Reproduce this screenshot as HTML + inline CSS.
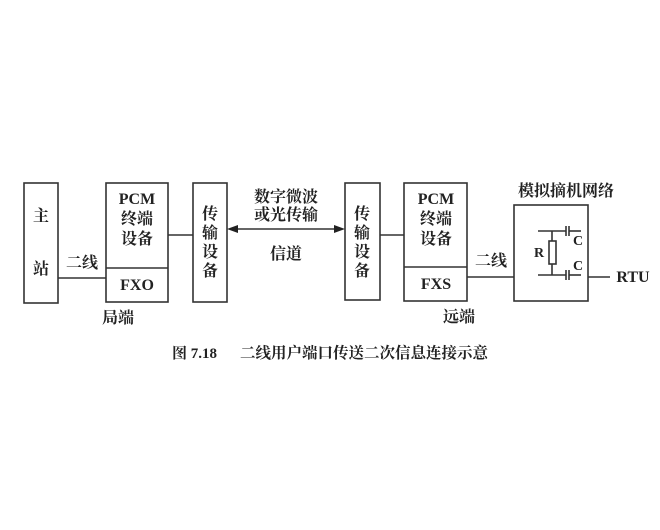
<!DOCTYPE html>
<html><head><meta charset="utf-8"><style>
html,body{margin:0;padding:0;background:#fff;}
</style></head><body>
<svg width="660" height="525" xmlns="http://www.w3.org/2000/svg" font-family="Liberation Serif, Noto Serif CJK SC, serif" fill="#222">
<rect width="660" height="525" fill="#fff"/>
<g fill="none" stroke="#333" stroke-width="1.6">
<rect x="24" y="183" width="34" height="120"/>
<rect x="106" y="183" width="62" height="119"/>
<line x1="106" y1="268" x2="168" y2="268"/>
<rect x="193" y="183" width="34" height="119"/>
<rect x="345" y="183" width="35" height="117"/>
<rect x="404" y="183" width="63" height="118"/>
<line x1="404" y1="267" x2="467" y2="267"/>
<rect x="514" y="205" width="74" height="96"/>
<line x1="58" y1="278" x2="106" y2="278"/>
<line x1="168" y1="235" x2="193" y2="235"/>
<line x1="380" y1="235" x2="404" y2="235"/>
<line x1="467" y1="277" x2="514" y2="277"/>
<line x1="588" y1="277" x2="610" y2="277"/>
<line x1="236" y1="229" x2="336" y2="229"/>
<line x1="538" y1="231" x2="566" y2="231"/><line x1="569" y1="231" x2="581" y2="231"/>
<line x1="566" y1="226" x2="566" y2="236"/><line x1="569" y1="226" x2="569" y2="236"/>
<line x1="538" y1="275" x2="566" y2="275"/><line x1="569" y1="275" x2="581" y2="275"/>
<line x1="566" y1="270" x2="566" y2="280"/><line x1="569" y1="270" x2="569" y2="280"/>
<line x1="552" y1="231" x2="552" y2="241"/><line x1="552" y1="264" x2="552" y2="275"/>
<rect x="549" y="241" width="7" height="23"/>
</g>
<polygon points="227,229 238,225 238,233" fill="#222"/>
<polygon points="345,229 334,225 334,233" fill="#222"/>
<g font-size="16" font-weight="bold" text-anchor="middle">
<text x="41" y="221">主</text><text x="41" y="274">站</text>
<text x="137" y="204">PCM</text><text x="137" y="224">终端</text><text x="137" y="244">设备</text>
<text x="137" y="290">FXO</text>
<text x="210" y="219">传</text><text x="210" y="238">输</text><text x="210" y="257">设</text><text x="210" y="276">备</text>
<text x="362" y="219">传</text><text x="362" y="238">输</text><text x="362" y="257">设</text><text x="362" y="276">备</text>
<text x="436" y="204">PCM</text><text x="436" y="224">终端</text><text x="436" y="244">设备</text>
<text x="436" y="289">FXS</text>
<text x="286" y="202">数字微波</text><text x="286" y="220">或光传输</text>
<text x="286" y="259">信道</text>
<text x="82" y="268">二线</text>
<text x="491" y="266">二线</text>
<text x="118" y="323">局端</text>
<text x="459" y="322">远端</text>
<text x="566" y="196">模拟摘机网络</text>
<text x="539" y="257" font-size="14">R</text>
<text x="578" y="245" font-size="14">C</text>
<text x="578" y="270" font-size="14">C</text>
<text x="633" y="282">RTU</text>
</g>
<text x="172" y="358" font-size="15" font-weight="bold">图 7.18</text>
<text x="240" y="358" font-size="15.5" font-weight="bold">二线用户端口传送二次信息连接示意</text>
</svg>
</body></html>
